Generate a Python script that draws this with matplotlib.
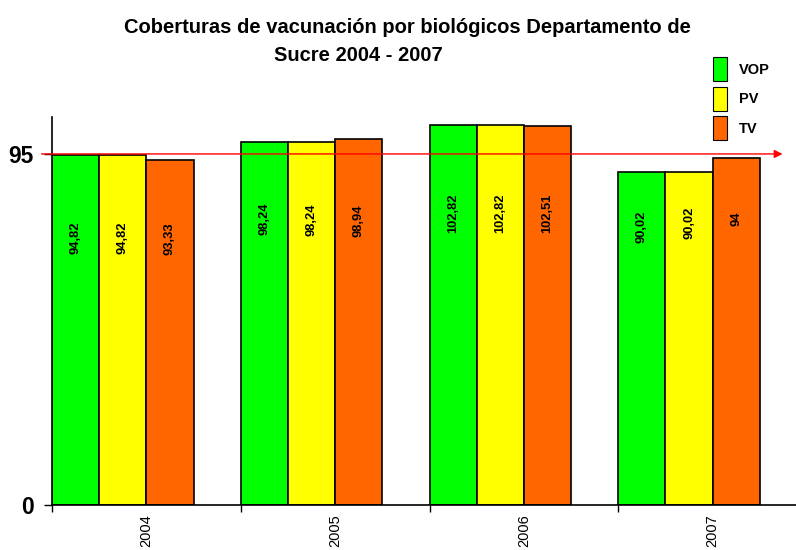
import matplotlib.pyplot as plt
from matplotlib.patches import Patch

plt.rcParams['font.family'] = ['Liberation Sans', 'DejaVu Sans']

anios = ['2004', '2005', '2006', '2007']
vop = [94.82, 98.24, 102.82, 90.02]
pv = [94.82, 98.24, 102.82, 90.02]
tv = [93.33, 98.94, 102.51, 94]
meta = 95

# altura (en unidades del eje) donde va el centro de cada etiqueta
pos_vop = [72.3, 77.4, 79.0, 75.2]
pos_pv = [72.3, 77.2, 79.0, 76.3]
pos_tv = [72.0, 77.0, 79.0, 77.4]

series = [('VOP', vop, pos_vop, '#00FF00'),
          ('PV', pv, pos_pv, '#FFFF00'),
          ('TV', tv, pos_tv, '#FF6600')]

W, H = 796, 550
fig = plt.figure(figsize=(W / 100, H / 100), dpi=100)
ax = fig.add_axes([52 / W, 1 - 505 / H, 755 / W, 388 / H])

ancho = 0.25
for j, (nombre, valores, posiciones, color) in enumerate(series):
    for i, v in enumerate(valores):
        x = i - 0.5 + ancho / 2 + j * ancho
        ax.bar(x, v, width=ancho, color=color, edgecolor='black', linewidth=1.2, zorder=2)
        txt = f'{v:g}'.replace('.', ',')
        ax.text(x, posiciones[i], txt, rotation=90, ha='center', va='center',
                fontsize=9.3, fontweight='bold', zorder=4)

ax.set_xlim(-0.5, 3.5)
ax.set_ylim(0, 105)

# linea de meta con flecha
ax.annotate('', xy=(3.385, meta), xytext=(-0.57, meta),
            arrowprops=dict(arrowstyle='-|>', color='red', lw=1, mutation_scale=12),
            annotation_clip=False, zorder=3)

ax.set_yticks([0, meta])
ax.set_yticklabels(['0', str(meta)], fontsize=16.5, fontweight='bold')
ax.tick_params(axis='y', length=6, width=1, direction='out', pad=7)

ax.set_xticks(range(len(anios)))
ax.set_xticklabels(anios, rotation=90, fontsize=10.5)
ax.tick_params(axis='x', which='major', length=0, pad=7)
ax.set_xticks([-0.5, 0.5, 1.5, 2.5], minor=True)
ax.tick_params(axis='x', which='minor', length=5, width=1, direction='out')

ax.spines['top'].set_visible(False)
ax.spines['right'].set_visible(False)
ax.spines['left'].set_linewidth(1.2)
ax.spines['bottom'].set_linewidth(1.2)

fig.text(407 / W, 1 - 33 / H, 'Coberturas de vacunación por biológicos Departamento de',
         ha='center', va='baseline', fontsize=14.5, fontweight='bold')
fig.text(358 / W, 1 - 61 / H, 'Sucre 2004 - 2007',
         ha='center', va='baseline', fontsize=14.5, fontweight='bold')

handles = [Patch(facecolor=c, edgecolor='black', linewidth=0.8) for _, _, _, c in series]
fig.legend(handles, [n for n, _, _, _ in series], loc='upper left',
           bbox_to_anchor=(713 / W, 1 - 57 / H), borderpad=0, borderaxespad=0,
           frameon=False, handlelength=0.95, handleheight=2.2, labelspacing=0.35,
           handletextpad=0.8, prop={'size': 10.5, 'weight': 'bold'})

fig.savefig('out.png', dpi=100)
